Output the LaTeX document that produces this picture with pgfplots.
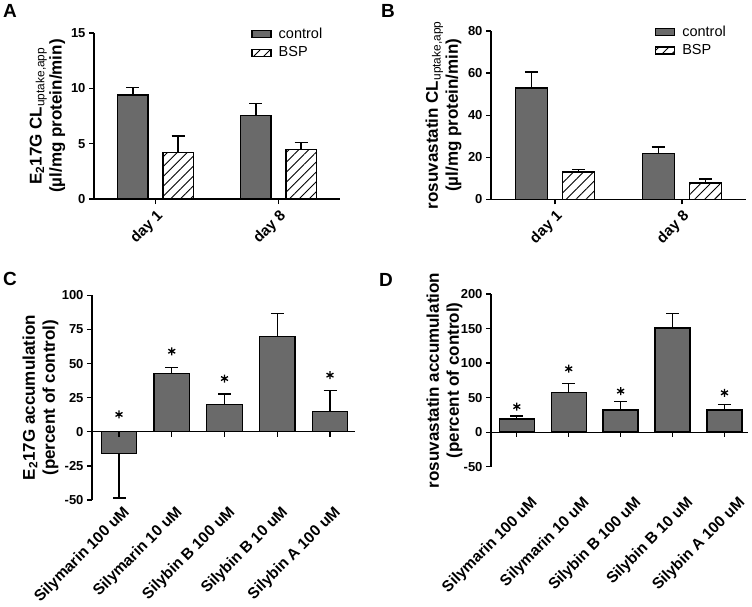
\documentclass[border=0pt]{standalone}
\usepackage{fontspec}
\setmainfont{Liberation Sans}
\usepackage{pgfplots}
\pgfplotsset{compat=1.18}
\usetikzlibrary{patterns.meta}
\definecolor{barGray}{HTML}{6A6A6A}

\pgfplotsset{
  panel/.style={
    scale only axis, anchor=south west, clip=false,
    axis x line*=bottom, axis y line*=left,
    axis line style={line width=1.3pt, -},
    tick style={line width=1.3pt, black},
    major tick length=5pt, tick align=outside,
    tick label style={font=\fontsize{13}{13}\selectfont\bfseries},
    /pgf/number format/assume math mode=true,
    ylabel style={font=\fontsize{17}{20}\selectfont\bfseries, align=center, anchor=center},
    legend style={anchor=north west, draw=none, fill=none, inner sep=0pt, outer sep=0pt,
      font=\fontsize{14.5}{14.5}\selectfont, row sep=2.5pt, cells={anchor=west}},
  },
  errs/.style={
    error bars/y dir=both, error bars/y explicit,
    error bars/error bar style={line width=1.3pt, black},
    error bars/error mark options={rotate=90, mark size=6.5pt, line width=1.3pt, black},
  },
  solidbar/.style={ybar, fill=barGray, draw=black, line width=1.4pt, errs},
  hatchbar/.style={ybar, draw=black, line width=1.4pt, fill=white, errs,
    postaction={pattern={Lines[angle=45,distance=7pt,line width=0.9pt]}}},
  boxlegend/.style={legend image code/.code={\draw[##1, line width=1.2pt] (0pt,-3.5pt) rectangle (19pt,3.5pt); \path (24pt,0pt);}},
  stars/.style={only marks, mark=asterisk, mark size=4pt, line width=1.3pt, black},
}

\begin{document}
\begin{tikzpicture}
\path[use as bounding box] (0pt,0pt) rectangle (752pt,-607pt);

% ---------- A
\node[font=\fontsize{19}{19}\selectfont\bfseries, anchor=north west, inner sep=0pt] at (3pt,-4pt) {A};
\begin{axis}[panel, at={(94pt,-199pt)}, width=246pt, height=166pt,
  xmin=0.5, xmax=2.5, ymin=0, ymax=15, ytick={0,5,10,15},
  xtick={1,2}, xticklabels={day 1, day 8},
  xticklabel style={rotate=45, anchor=north east, font=\fontsize{15}{15}\selectfont\bfseries},
  ylabel={E\textsubscript{2}17G CL\textsubscript{\mdseries uptake,app}\\(µl/mg protein/min)},
  ylabel style={at={(axis description cs:-0.189,0.5)}},
  legend style={at={(axis description cs:0.64,1.04)}},
]
\addplot[solidbar, boxlegend, bar width=30.5pt] coordinates {(0.816,9.4) += (0,0.7) (1.816,7.56) += (0,1.04)};
\addlegendentry{control}
\addplot[hatchbar, boxlegend, bar width=30.5pt] coordinates {(1.184,4.2) += (0,1.5) (2.184,4.45) += (0,0.65)};
\addlegendentry{BSP}
\end{axis}

% ---------- B
\node[font=\fontsize{19}{19}\selectfont\bfseries, anchor=north west, inner sep=0pt] at (381pt,-4pt) {B};
\begin{axis}[panel, at={(491pt,-199.3pt)}, width=255pt, height=168.3pt,
  xmin=0.495, xmax=2.505, ymin=0, ymax=80, ytick={0,20,40,60,80},
  xtick={1,2}, xticklabels={day 1, day 8},
  xticklabel style={rotate=45, anchor=north east, font=\fontsize{15}{15}\selectfont\bfseries},
  ylabel={rosuvastatin CL\textsubscript{\mdseries uptake,app}\\(µl/mg protein/min)},
  ylabel style={at={(axis description cs:-0.186,0.5)}},
  legend style={at={(axis description cs:0.643,1.04)}},
]
\addplot[solidbar, boxlegend, bar width=32pt] coordinates {(0.813,52.9) += (0,7.6) (1.813,21.9) += (0,3.0)};
\addlegendentry{control}
\addplot[hatchbar, boxlegend, bar width=32pt] coordinates {(1.187,12.9) += (0,1.2) (2.187,7.8) += (0,1.9)};
\addlegendentry{BSP}
\end{axis}

% ---------- C
\node[font=\fontsize{19}{19}\selectfont\bfseries, anchor=north west, inner sep=0pt] at (3pt,-272pt) {C};
\begin{axis}[panel, at={(92pt,-500pt)}, width=263pt, height=204.7pt,
  xmin=-0.512, xmax=4.474, ymin=-50, ymax=100, ytick={-50,-25,0,25,50,75,100},
  x axis line style={draw=none}, major x tick style={draw=none},
  extra y ticks={0}, extra y tick labels={},
  extra y tick style={grid=major, major grid style={black, line width=1.3pt}},
  xtick={0,...,4},
  xticklabels={Silymarin 100 uM, Silymarin 10 uM, Silybin B 100 uM, Silybin B 10 uM, Silybin A 100 uM},
  xticklabel style={xshift=3pt, yshift=5pt, rotate=45, anchor=north east, font=\fontsize{15.5}{15.5}\selectfont\bfseries},
  ylabel={E\textsubscript{2}17G accumulation\\(percent of control)},
  ylabel style={at={(axis description cs:-0.196,0.5)}},
]
\addplot[solidbar, bar width=35.5pt] coordinates {
  (0,-16.1) -= (0,32.4) (1,42.5) += (0,4.5) (2,20.2) += (0,7.4) (3,69.6) += (0,17.2) (4,14.7) += (0,15.6)};
\addplot[stars] coordinates {(0,12.7) (1,59) (2,39) (4,41.5)};
\pgfplotsinvokeforeach{0,...,4}{\draw[line width=1.3pt] (axis cs:#1,0) -- ++(0pt,-5pt);}
\end{axis}

% ---------- D
\node[font=\fontsize{19}{19}\selectfont\bfseries, anchor=north west, inner sep=0pt] at (379pt,-273pt) {D};
\begin{axis}[panel, at={(491pt,-466.7pt)}, width=256.7pt, height=172.7pt,
  xmin=-0.497, xmax=4.447, ymin=-50, ymax=200, ytick={-50,0,50,100,150,200},
  x axis line style={draw=none}, major x tick style={draw=none},
  extra y ticks={0}, extra y tick labels={},
  extra y tick style={grid=major, major grid style={black, line width=1.3pt}},
  xtick={0,...,4},
  xticklabels={Silymarin 100 uM, Silymarin 10 uM, Silybin B 100 uM, Silybin B 10 uM, Silybin A 100 uM},
  xticklabel style={xshift=13pt, yshift=-19pt, rotate=45, anchor=north east, font=\fontsize{15.5}{15.5}\selectfont\bfseries},
  ylabel={rosuvastatin accumulation\\(percent of control)},
  ylabel style={at={(axis description cs:-0.181,0.5)}},
]
\addplot[solidbar, bar width=35pt] coordinates {
  (0,18.8) += (0,4.4) (1,57.5) += (0,12.5) (2,31.9) += (0,12.5) (3,150.6) += (0,20.8) (4,31.9) += (0,8.6)};
\addplot[stars] coordinates {(0,37) (1,91.8) (2,59.4) (4,57)};
\pgfplotsinvokeforeach{0,...,4}{\draw[line width=1.3pt] (axis cs:#1,0) -- ++(0pt,-5pt);}
\end{axis}
\end{tikzpicture}
\end{document}
